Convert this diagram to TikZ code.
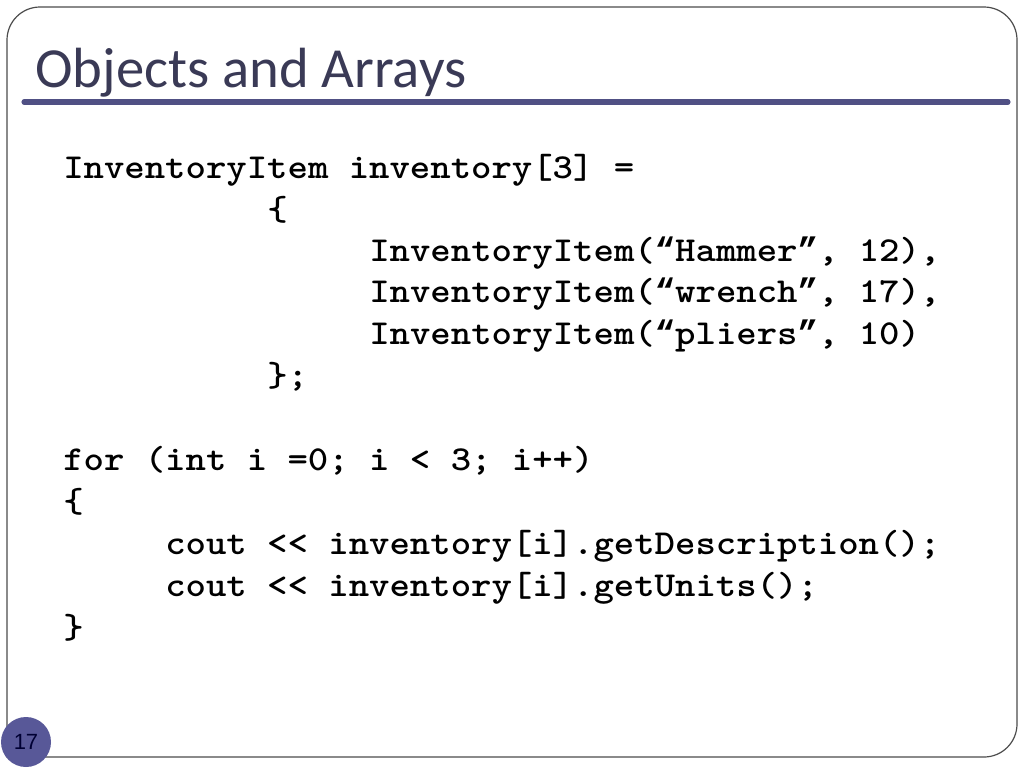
\documentclass[tikz,border=0pt]{standalone}
\usepackage{fontspec}
\setmainfont{Carlito}
\newfontfamily\codefont{lmmonolt10-bold}[Extension=.otf, FakeStretch=1.11]
\newfontfamily\quotefont{Liberation Mono}
\newfontfamily\numfont{Liberation Sans}
\usetikzlibrary{positioning}
\definecolor{titleblue}{RGB}{58,58,86}
\definecolor{ruleblue}{RGB}{80,80,132}
\definecolor{slideblue}{RGB}{88,88,152}
\newcommand{\oq}{{\quotefont\bfseries\fontsize{25.5}{30}\selectfont “}}
\newcommand{\cq}{{\quotefont\bfseries\fontsize{25.5}{30}\selectfont ”}}
\tikzset{%
	slidetitle/.style = {anchor=base west, inner sep=0pt, text=titleblue, font=\fontsize{42.5}{50}\selectfont},
	codeline/.style   = {anchor=base west, inner sep=0pt, font=\codefont\fontsize{26.25}{30}\selectfont},
	pagenum/.style    = {circle, fill=slideblue, minimum size=37.5pt, inner sep=0pt, text=black!80!blue, font=\numfont\fontsize{16.5}{18}\selectfont},
	frameline/.style  = {draw=black!70, line width=0.9pt},
}
\begin{document}
\begin{tikzpicture}[x=0.75pt,y=-0.75pt]
	\useasboundingbox (0,0) rectangle (1024,768);
	% slide frame
	\draw[frameline] (7,757) -- (7,40) arc[start angle=180,end angle=270,radius=33] -- (984,7)
		arc[start angle=270,end angle=360,radius=33] -- (1017,724)
		arc[start angle=0,end angle=90,radius=33] -- cycle;
	\node[slidetitle] (title) at (35,87) {Objects and Arrays};
	\draw[ruleblue,line width=3.8pt,line cap=round] (24,102) -- (1008,102);
	% code
	\node[codeline] (decl)  at (63,178) {InventoryItem inventory[3] =};
	\node[codeline] (lbr1)  at (267,220) {\{};
	\node[codeline] (item1) at (369,261) {InventoryItem(\oq Hammer\cq, 12),};
	\node[codeline] (item2) at (369,302) {InventoryItem(\oq wrench\cq, 17),};
	\node[codeline] (item3) at (369,344) {InventoryItem(\oq pliers\cq, 10)};
	\node[codeline] (rbr1)  at (267,386) {\};};
	\node[codeline] (loop)  at (63,470) {for (int i =0; i < 3; i++)};
	\node[codeline] (lbr2)  at (63,512) {\{};
	\node[codeline] (out1)  at (165,554) {cout <{}< inventory[i].getDescription();};
	\node[codeline] (out2)  at (165,596) {cout <{}< inventory[i].getUnits();};
	\node[codeline] (rbr2)  at (63,638) {\}};
	\node[pagenum] (page) at (26,742) {17};
\end{tikzpicture}
\end{document}
